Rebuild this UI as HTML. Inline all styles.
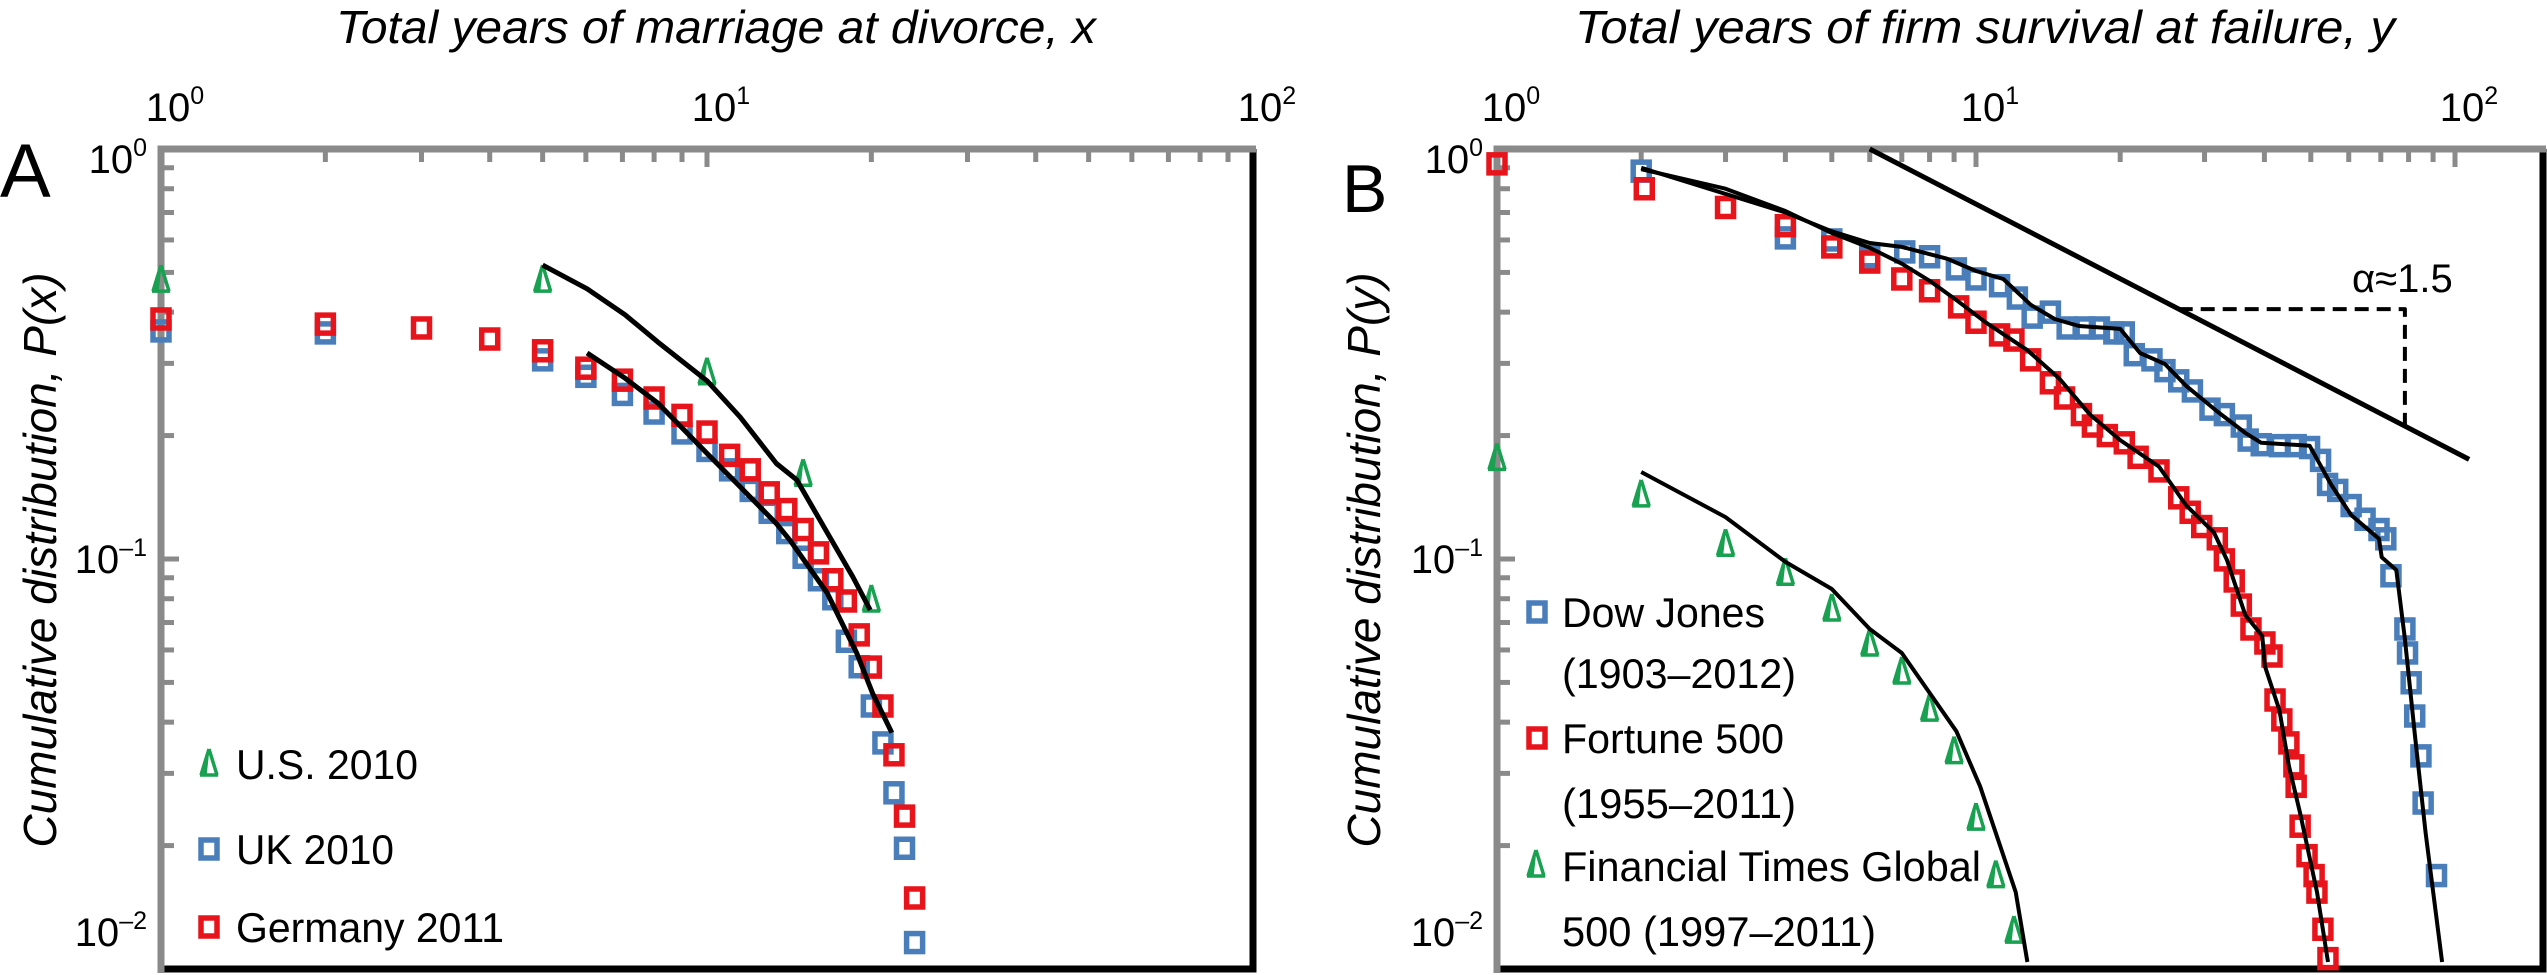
<!DOCTYPE html>
<html><head><meta charset="utf-8"><style>
html,body{margin:0;padding:0;background:#fff;}
svg{display:block;font-family:"Liberation Sans Narrow","Liberation Sans",sans-serif;}
</style></head><body>
<svg id="fig" width="2547" height="975" viewBox="0 0 2547 975" xmlns="http://www.w3.org/2000/svg"></svg>
<script>
// ---------- Panel A data ----------
const usX=[1,5,10,15,20];
const usP=[0.476,0.476,0.283,0.160,0.079];
const ukX=[1,2,5,6,7,8,9,10,11,12,13,14,15,16,17,18,19,20,21,22,23,24];
const ukP=[0.36,0.356,0.306,0.279,0.252,0.227,0.203,0.184,0.165,0.147,0.130,0.116,0.101,0.089,0.080,0.063,0.0546,0.0438,0.0356,0.0269,0.0197,0.0116];
const deX=[1,2,3,4,5,6,7,8,9,10,11,12,13,14,15,16,17,18,19,20,21,22,23,24];
const deP=[0.385,0.374,0.366,0.344,0.322,0.292,0.273,0.247,0.224,0.204,0.179,0.165,0.145,0.132,0.118,0.1035,0.089,0.079,0.0653,0.0545,0.0438,0.0333,0.0236,0.0149];
const fitUpX=[5,6.03,7.08,8.13,10,11.5,13.4,14.6,16.6,18.5,19.9];
const fitUpP=[0.521,0.456,0.394,0.338,0.272,0.222,0.171,0.156,0.116,0.0904,0.0751];
const fitLoX=[6.03,7.08,8.13,10,11.5,13.4,14.2,16.6,18.8,20.1,21.8];
const fitLoP=[0.318,0.276,0.240,0.181,0.150,0.122,0.111,0.0826,0.059,0.0471,0.0377];
// ---------- Panel B data ----------
const ftX=[1,2,3,4,5,6,7,8,9,10,11,12];
const ftP=[0.175,0.1425,0.108,0.0918,0.0751,0.0617,0.0527,0.0428,0.0337,0.0232,0.0168,0.0123];
const frX=[1,2.03,3,4,5,6,7,8,9.2,10,11.2,12,13,14.3,15.3,16.6,17.5,18.8,20.4,21.8,24.1,26.5,28,29.6,31.9,33,34.6,35.8,37.5,40.1,41.5,42.1,43.5,45,46.1,46.6,47.5,49.1,50.8,51.5,53,54.3];
const frP=[0.92,0.80,0.72,0.65,0.577,0.53,0.482,0.451,0.412,0.378,0.352,0.342,0.306,0.269,0.247,0.225,0.211,0.200,0.192,0.177,0.164,0.141,0.130,0.120,0.112,0.0995,0.0884,0.0772,0.0675,0.0624,0.058,0.0453,0.0405,0.0356,0.0313,0.0279,0.0223,0.0189,0.0169,0.0154,0.0125,0.0106];
const djX=[2,4,5,6,7.1,8,9.1,10,11.2,12.2,13.1,14.3,15.5,16.9,18.1,19.4,20.4,21.4,23.3,24.8,26.5,28.3,30.8,33,35.8,37,39.4,43,46.6,49.7,52.4,54.2,56.9,60.7,64.9,69.4,71.7,73.5,78.6,79.6,81,82.4,84.9,85.8,91.5];
const djP=[0.883,0.607,0.60,0.546,0.561,0.546,0.51,0.482,0.464,0.433,0.389,0.40,0.366,0.366,0.366,0.356,0.356,0.315,0.306,0.288,0.272,0.257,0.232,0.225,0.211,0.195,0.190,0.189,0.189,0.187,0.174,0.152,0.147,0.135,0.125,0.118,0.112,0.091,0.0675,0.059,0.0499,0.0414,0.0331,0.0254,0.0169];
const ftFitX=[2,3,4,5,6,7,9.1,10.2,12.1,12.8];
const ftFitP=[0.163,0.1265,0.0984,0.0845,0.0675,0.059,0.038,0.0279,0.0154,0.0104];
const frFitX=[2,3,4,5,6,7,8,9.2,10.5,12.8,14.9,17.3,20,24.1,27.5,31.4,33.4,36.5,39.6,40.1,43,45,47.5,51.5,54.3];
const frFitP=[0.893,0.80,0.706,0.624,0.574,0.525,0.477,0.424,0.377,0.323,0.276,0.225,0.195,0.168,0.135,0.116,0.0995,0.073,0.0649,0.0548,0.0428,0.0313,0.024,0.0154,0.0104];
const djFitX=[2,4,5,6,7,8.7,10,11.4,13,14.6,16.4,20,22,24.8,27.5,31.9,36.5,39.4,49.7,55.1,60.7,69.4,70.3,75.4,78.6,82.4,86.8,94];
const djFitP=[0.90,0.70,0.63,0.59,0.577,0.54,0.504,0.482,0.417,0.385,0.37,0.364,0.318,0.299,0.264,0.229,0.203,0.192,0.189,0.152,0.128,0.112,0.101,0.094,0.0638,0.0376,0.0215,0.0104];
const powX=[6,107];
const powP=[1.0,0.175];
const triX=[26.5,78.6];
const triP=[0.407,0.211];
const xTickDecades=[1,10,100];
const yTickDecades=[1,0.1,0.01];

const NS="http://www.w3.org/2000/svg";
const svg=document.getElementById('fig');
function el(tag,attrs,parent){const e=document.createElementNS(NS,tag);for(const k in attrs)e.setAttribute(k,attrs[k]);(parent||svg).appendChild(e);return e;}

const RED="#e8141c",BLUE="#4a7ebb",GREEN="#17a150",GRAY="#8a8a8a";
const yTop=149,yBot=969,ydec=410;
function yS(p){return yTop-Math.log10(p)*ydec;}
const panels={
 A:{left:161,right:1253,decx:546},
 B:{left:1497,right:2543,decx:479}
};
function xS(P,v){return P.left+Math.log10(v)*P.decx;}

function drawAxes(P,id,xmax){
  const g=el('g',{});
  
  
  const rb=el('path',{d:`M${P.right},${yTop} V${yBot} H${P.left}`,fill:'none',stroke:'#000','stroke-width':7},g);
  
  
  for(let d=1;d<=100;d*=10){
    for(let m=1;m<10;m++){
      const v=d*m; if(v>xmax) break; if(v===1) continue;
      const x=xS(P,v); if(x>P.right-4) continue;
      const t=el('line',{x1:x,x2:x,y1:yTop,y2:yTop+(m===1?18:13),stroke:GRAY,'stroke-width':5},g);
      
      
    }
  }
  for(const d of [0.01,0.1]){
    for(let m=1;m<10;m++){
      const v=d*m; if(Math.abs(v-0.01)<1e-9) continue;
      const y=yS(v);
      const t=el('line',{x1:P.left,x2:P.left+(m===1?18:13),y1:y,y2:y,stroke:GRAY,'stroke-width':5},g);
      
      
    }
  }
  const tl=el('path',{d:`M${P.left},${yBot+4} V${yTop} H${P.right+3}`,fill:'none',stroke:GRAY,'stroke-width':7},g);
  
  
  xTickDecades.forEach((v,i)=>{
    const x=xS(P,v);
    const t=el('text',{x:x+14,y:121,'font-size':40,'text-anchor':'middle',fill:'#000'},g);
    t.appendChild(document.createTextNode('10'));
    const s=el('tspan',{dy:-17,'font-size':25},t); s.textContent=String(i);
    
    
  });
  const ys=[173,573,946];
  yTickDecades.forEach((v,i)=>{
    const t=el('text',{x:P.left-14,y:ys[i],'font-size':40,'text-anchor':'end',fill:'#000'},g);
    t.appendChild(document.createTextNode('10'));
    const s=el('tspan',{dy:-17,'font-size':25},t); s.textContent=i===0?'0':'\u2013'+i;
    
    
  });
}
drawAxes(panels.A,'a',100);
drawAxes(panels.B,'b',150);

function line(P,xs,ps,w,name,dash){
  const d=xs.map((v,i)=>(i?'L':'M')+xS(P,v).toFixed(1)+','+yS(ps[i]).toFixed(1)).join(' ');
  const e=el('path',{d:d,fill:'none',stroke:'#000','stroke-width':w,'stroke-linejoin':'round'});
  if(dash) e.setAttribute('stroke-dasharray',dash);
  
  
  return e;
}
function square(x,y,c,name){
  const e=el('rect',{x:x-8,y:y-9,width:16,height:18,fill:'none',stroke:c,'stroke-width':5.5});
  
  
  return e;
}
function tri(x,y,name){
  const e=el('path',{d:`M${x},${y-16} L${x-8},${y+10} M${x},${y-16} L${x+8},${y+10} M${x-9},${y+10} H${x+9} M${x-2},${y-9} L${x-4},${y+9}`,fill:'none',stroke:GREEN,'stroke-width':3.5});
  
  
  return e;
}
function squares(P,xs,ps,c,name){xs.forEach((v,i)=>square(xS(P,v),yS(ps[i]),c,name));}
function tris(P,xs,ps,name){xs.forEach((v,i)=>tri(xS(P,v),yS(ps[i]),name));}

const A=panels.A,B=panels.B;
squares(A,ukX,ukP,BLUE,'uk-2010-point');
squares(A,deX,deP,RED,'germany-2011-point');
tris(A,usX,usP,'us-2010-point');
line(A,fitUpX,fitUpP,5,'us-fit-line');
line(A,fitLoX,fitLoP,5,'uk-germany-fit-line');

squares(B,djX,djP,BLUE,'dow-jones-point');
squares(B,frX,frP,RED,'fortune-500-point');
tris(B,ftX,ftP,'ft-global-500-point');
line(B,djFitX,djFitP,4,'dow-jones-fit-line');
line(B,frFitX,frFitP,4,'fortune-500-fit-line');
line(B,ftFitX,ftFitP,4,'ft-global-fit-line');
line(B,powX,powP,5,'power-law-line');
line(B,[triX[0],triX[1],triX[1]],[triP[0],triP[0],triP[1]],4,'slope-triangle','14,8');

function txt(x,y,s,size,attrs,name){
  const t=el('text',Object.assign({x:x,y:y,'font-size':size,fill:'#000'},attrs||{}));
  t.textContent=s;
  
  
  return t;
}
txt(2352,292,'\u03b1\u22481.5',40,{'font-family':'"Liberation Sans",sans-serif'},'alpha-annotation');

txt(716,43,'Total years of marriage at divorce, x',46,{'text-anchor':'middle','font-style':'italic',textLength:760,lengthAdjust:'spacingAndGlyphs'},'x-axis-title-a');
txt(1985,43,'Total years of firm survival at failure, y',46,{'text-anchor':'middle','font-style':'italic',textLength:820,lengthAdjust:'spacingAndGlyphs'},'x-axis-title-b');
txt(0,0,'Cumulative distribution, P(x)',46,{'text-anchor':'middle','font-style':'italic','font-family':'"Liberation Sans",sans-serif',transform:'translate(56,560) rotate(-90)'},'y-axis-title-a');
txt(0,0,'Cumulative distribution, P(y)',46,{'text-anchor':'middle','font-style':'italic','font-family':'"Liberation Sans",sans-serif',transform:'translate(1380,560) rotate(-90)'},'y-axis-title-b');
txt(0,197,'A',76,{'font-family':'"Liberation Sans",sans-serif'},'panel-label-a');
txt(1342,212,'B',68,{'font-family':'"Liberation Sans",sans-serif'},'panel-label-b');

const LS=42;
tri(209,765,'legend-us-marker');
txt(236,779,'U.S. 2010',LS,{textLength:182,lengthAdjust:'spacingAndGlyphs'},'legend-us-2010');
square(209,849,BLUE,'legend-uk-marker');
txt(236,864,'UK 2010',LS,{textLength:158,lengthAdjust:'spacingAndGlyphs'},'legend-uk-2010');
square(209,927,RED,'legend-germany-marker');
txt(236,942,'Germany 2011',LS,{textLength:268,lengthAdjust:'spacingAndGlyphs'},'legend-germany-2011');

square(1537,612,BLUE,'legend-dow-jones-marker');
txt(1562,627,'Dow Jones',LS,{textLength:203,lengthAdjust:'spacingAndGlyphs'},'legend-dow-jones');
txt(1562,688,'(1903\u20132012)',LS,{textLength:234,lengthAdjust:'spacingAndGlyphs'},'legend-dow-jones-years');
square(1537,738,RED,'legend-fortune-marker');
txt(1562,753,'Fortune 500',LS,{textLength:222,lengthAdjust:'spacingAndGlyphs'},'legend-fortune-500');
txt(1562,818,'(1955\u20132011)',LS,{textLength:234,lengthAdjust:'spacingAndGlyphs'},'legend-fortune-years');
tri(1536,866,'legend-ft-marker');
txt(1562,881,'Financial Times Global',LS,{textLength:419,lengthAdjust:'spacingAndGlyphs'},'legend-ft-global');
txt(1562,946,'500 (1997\u20132011)',LS,{textLength:314,lengthAdjust:'spacingAndGlyphs'},'legend-ft-years');
</script>
</body></html>
